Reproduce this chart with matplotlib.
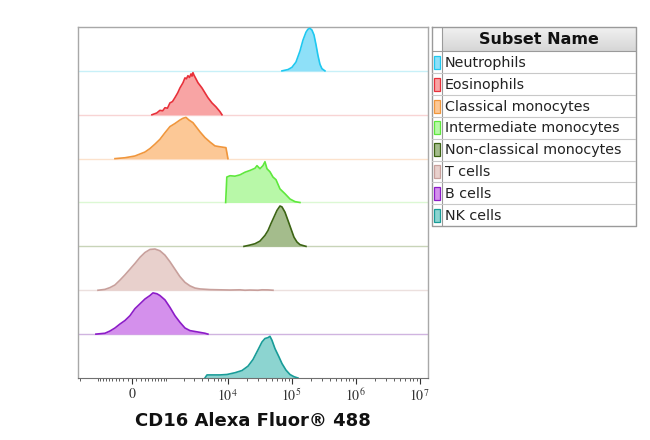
import numpy as np
import matplotlib
matplotlib.use("Agg")
import matplotlib.pyplot as plt
from matplotlib.patches import Rectangle

# ---------------- data ----------------
subsets = ["Neutrophils", "Eosinophils", "Classical monocytes",
           "Intermediate monocytes", "Non-classical monocytes",
           "T cells", "B cells", "NK cells"]

edge_colors = ["#1ec8f0", "#e8303a", "#f0963c", "#5ee83c",
               "#3c6414", "#c8a09c", "#8c1cc8", "#189c98"]
fill_colors = ["#8ee0f8", "#f8a4a4", "#fcc896", "#b8f8a8",
               "#a4bc8c", "#e8d0cc", "#d490ec", "#8cd4d0"]
base_colors = ["#c8f0f8", "#f8d4d4", "#fce2cc", "#dcf8d4",
               "#c8d4b8", "#ece0de", "#d0b4e0", "#808080"]

# CD16 intensity (x) and normalized counts (y) for each subset
neutrophils_x = [70600, 87700, 101000, 116800, 134800, 150300, 167400, 179900,
                 193300, 207700, 223300, 239900, 257800, 277000, 297600, 331500]
neutrophils_y = [0.0, 0.03, 0.08, 0.2, 0.45, 0.7, 0.88, 0.95,
                 0.97, 0.93, 0.82, 0.6, 0.35, 0.15, 0.05, 0.0]

eosinophils_x = [501, 650, 758, 860, 952, 1060, 1174, 1300, 1434, 1600, 1741, 1958,
                 2106, 2230, 2355, 2500, 2637, 2740, 2835, 2950, 3058, 3411, 3949,
                 4397, 4902, 5670, 6554, 7578, 8147]
eosinophils_y = [0.0, 0.04, 0.1, 0.09, 0.16, 0.15, 0.27, 0.3, 0.39, 0.5, 0.61, 0.73,
                 0.84, 0.82, 0.89, 0.85, 0.93, 0.88, 0.96, 0.9, 0.86, 0.73, 0.61,
                 0.5, 0.39, 0.27, 0.18, 0.07, 0.0]

classical_x = [-416, -163, 69, 310, 445, 592, 758, 952, 1174, 1434, 1741, 1958,
               2189, 2445, 2835, 3290, 3674, 4397, 5267, 6323, 7578, 9400, 10100]
classical_y = [0.0, 0.02, 0.06, 0.15, 0.23, 0.33, 0.44, 0.59, 0.73, 0.8, 0.88, 0.92,
               0.94, 0.88, 0.82, 0.7, 0.61, 0.48, 0.38, 0.29, 0.27, 0.25, 0.0]

intermediate_x = [9300, 9700, 10867, 13011, 15584, 18662, 22317, 26720, 28740,
                  31994, 35650, 38304, 41150, 45856, 51100, 56960, 65728, 78656,
                  94208, 112768, 134848]
intermediate_y = [0.0, 0.58, 0.61, 0.6, 0.63, 0.69, 0.73, 0.78, 0.84,
                  0.77, 0.84, 0.93, 0.77, 0.7, 0.58, 0.52, 0.31, 0.2,
                  0.08, 0.02, 0.0]

nonclassical_x = [18000, 22317, 26720, 31994, 38304, 42690, 47550, 52990, 59010,
                  65728, 70600, 78656, 87700, 97660, 108700, 121100, 134848, 167400]
nonclassical_y = [0.0, 0.03, 0.06, 0.12, 0.25, 0.36, 0.52, 0.67, 0.82,
                  0.92, 0.9, 0.78, 0.59, 0.4, 0.21, 0.1, 0.04, 0.0]

tcells_x = [-992, -723, -562, -416, -285, -163, -46, 69, 187, 310, 445, 592, 758,
            952, 1174, 1434, 1741, 2106, 2541, 3058, 3674, 5267, 7578, 10867,
            15584, 18662, 22317, 29760, 34370, 42690, 51100]
tcells_y = [0.0, 0.02, 0.06, 0.12, 0.23, 0.35, 0.48, 0.61, 0.75, 0.86, 0.93, 0.94,
            0.9, 0.8, 0.65, 0.48, 0.31, 0.18, 0.1, 0.05, 0.03, 0.015, 0.01, 0.005,
            0.01, 0.0, 0.005, 0.0, 0.01, 0.008, 0.0]

bcells_x = [-1082, -723, -562, -416, -285, -163, -46, 69, 187, 310, 445, 531, 656,
            758, 952, 1174, 1434, 1741, 2106, 2541, 3058, 3674, 4397, 4902]
bcells_y = [0.0, 0.02, 0.07, 0.14, 0.23, 0.31, 0.42, 0.58, 0.69, 0.8, 0.88, 0.94, 0.92,
            0.88, 0.78, 0.61, 0.42, 0.27, 0.14, 0.08, 0.06, 0.04, 0.02, 0.0]

nkcells_x = [4397, 4736, 5670, 7578, 9754, 13011, 16750, 20800, 24870, 29760,
             34370, 38304, 42690, 45856, 49280, 54912, 63420, 70600, 81600,
             94208, 108700, 125500]
nkcells_y = [0.0, 0.07, 0.07, 0.07, 0.08, 0.12, 0.17, 0.27, 0.42, 0.64,
             0.82, 0.9, 0.92, 0.95, 0.86, 0.67, 0.48, 0.33, 0.18,
             0.08, 0.03, 0.0]

series_x = [neutrophils_x, eosinophils_x, classical_x, intermediate_x,
            nonclassical_x, tcells_x, bcells_x, nkcells_x]
series_y = [neutrophils_y, eosinophils_y, classical_y, intermediate_y,
            nonclassical_y, tcells_y, bcells_y, nkcells_y]

tick_values = [0, 1e4, 1e5, 1e6, 1e7]
tick_labels = ["0", r"$10^{4}$", r"$10^{5}$", r"$10^{6}$", r"$10^{7}$"]
x_label = "CD16 Alexa Fluor® 488"
legend_title = "Subset Name"

# ---------------- figure ----------------
plt.rcParams["mathtext.fontset"] = "stix"
W, H = 650, 440
fig = plt.figure(figsize=(6.5, 4.4), dpi=100)

ax = fig.add_axes([78 / W, (H - 378) / H, (428 - 78) / W, (378 - 27) / H])

COF = 640.0
def fwd(x):
    return np.arcsinh(np.asarray(x, dtype=float) / COF) / np.log(10)
def inv(y):
    return COF * np.sinh(np.asarray(y, dtype=float) * np.log(10))
ax.set_xscale("function", functions=(fwd, inv))

n = len(subsets)
for i in range(n):
    base = n - 1 - i
    xs = np.array(series_x[i], dtype=float)
    ys = np.array(series_y[i], dtype=float)
    if i < n - 1:
        ax.axhline(base, color=base_colors[i], lw=1.0, zorder=1)
    ax.fill_between(xs, base, base + ys, color=fill_colors[i], lw=0, zorder=2)
    ax.plot(xs, base + ys, color=edge_colors[i], lw=1.2, zorder=3)

ax.set_xlim(-2183, 1.35e7)
ax.set_ylim(0, n)
ax.set_yticks([])
ax.set_xticks(tick_values)
ax.set_xticklabels(tick_labels, fontsize=10, color="#333333", fontfamily="STIXGeneral")
minor = []
for s in (-1, 1):
    minor += [s * v for v in range(100, 1000, 100)]
    minor += [s * v for v in range(1000, 10000, 1000)]
for dec in (1e4, 1e5, 1e6):
    minor += [k * dec for k in range(2, 10)]
minor = [m for m in minor if m > -2183]
ax.set_xticks(minor, minor=True)
ax.tick_params(axis="x", which="major", direction="out", length=4, width=0.8,
               color="#333333", pad=3)
ax.tick_params(axis="x", which="minor", direction="out", length=2.5, width=0.6,
               color="#444444")
for side in ("top", "right", "left"):
    ax.spines[side].set_color("#a8a8a8")
    ax.spines[side].set_linewidth(1.0)
ax.spines["bottom"].set_color("#707070")
ax.set_xlabel(x_label, fontsize=13, fontweight="bold", color="#111111", labelpad=5)

# ---------------- legend table ----------------
lx0, lx1, ly0, ly1 = 432, 636, 27, 226
lax = fig.add_axes([lx0 / W, (H - ly1) / H, (lx1 - lx0) / W, (ly1 - ly0) / H])
lax.set_xlim(0, lx1 - lx0)
lax.set_ylim(ly1 - ly0, 0)
lax.axis("off")
hdr_h = 24.5
row_h = (ly1 - ly0 - hdr_h) / n
sw_w = 10
# header gradient
grad = np.linspace(0.95, 0.84, 50).reshape(-1, 1)
lax.imshow(np.dstack([grad, grad, grad]), extent=(sw_w, lx1 - lx0, hdr_h, 0),
           aspect="auto", zorder=0)
lax.text((sw_w + lx1 - lx0) / 2, hdr_h / 2 + 0.5, legend_title, ha="center",
         va="center", fontsize=11.5, fontweight="bold", color="#111111")
lc = "#9a9a9a"
lax.plot([0, lx1 - lx0, lx1 - lx0, 0, 0], [0, 0, ly1 - ly0, ly1 - ly0, 0],
         color=lc, lw=1.0, clip_on=False)
lax.plot([sw_w, sw_w], [0, ly1 - ly0], color=lc, lw=0.8)
lax.plot([0, lx1 - lx0], [hdr_h, hdr_h], color=lc, lw=0.8)
for i, name in enumerate(subsets):
    y0 = hdr_h + i * row_h
    if i > 0:
        lax.plot([0, lx1 - lx0], [y0, y0], color="#c8c8c8", lw=0.8)
    lax.add_patch(Rectangle((2, y0 + (row_h - 13) / 2), 6, 13,
                            facecolor=fill_colors[i], edgecolor=edge_colors[i],
                            lw=0.9))
    lax.text(sw_w + 3, y0 + row_h / 2 + 0.5, name, ha="left", va="center",
             fontsize=10.3, color="#222222")

fig.savefig("out.png", dpi=100)
